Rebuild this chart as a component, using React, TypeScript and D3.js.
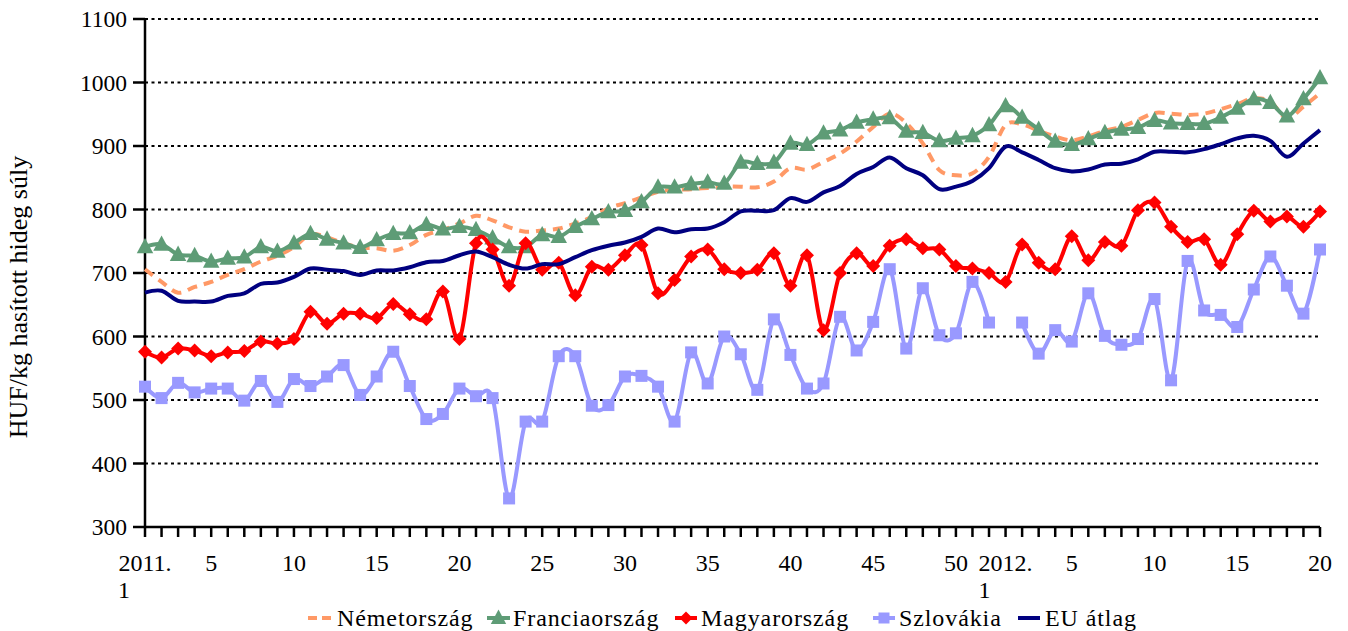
import React from "react";
import * as d3 from "d3";

// 2011 weeks 1..52, 2012 weeks 1..20 (72 weeks)
const nemetorszag = [706,686,669,678,686,697,706,718,727,741,761,756,747,740,739,735,744,
  760,768,778,790,783,772,765,767,770,778,788,802,810,819,828,831,832,834,
  836,836,835,844,865,863,875,888,907,930,951,936,904,862,854,857,883,933,
  934,924,915,909,915,924,930,941,952,951,949,951,958,966,975,970,944,962,983];
const franciaorszag = [741,745,729,727,718,723,725,741,734,747,762,753,747,740,752,762,763,
  776,769,773,768,755,741,741,760,757,773,785,796,798,812,835,835,840,843,
  841,874,872,874,904,902,920,925,937,942,944,923,921,908,912,916,933,963,
  945,926,907,902,911,921,926,929,940,936,935,935,945,959,974,968,947,974,1007];
const magyarorszag = [576,567,581,578,569,575,577,592,589,596,639,620,636,636,629,651,635,
  627,671,596,747,737,680,747,705,716,665,710,705,728,744,668,689,726,737,
  706,700,705,731,680,728,610,700,731,711,743,753,739,737,711,707,700,686,
  745,716,706,758,720,749,743,799,811,773,749,753,713,761,798,781,789,773,797];
const szlovakia: (number | null)[] = [521,503,527,512,518,518,499,530,497,533,522,537,555,508,537,576,522,
  470,478,518,506,503,345,466,466,569,569,491,492,537,538,521,466,575,526,
  600,572,516,627,571,518,526,631,578,623,706,581,676,602,605,686,622,null,
  622,573,610,592,668,601,587,596,659,531,719,641,634,615,674,726,680,636,737];
const euAtlag = [669,672,656,655,655,664,668,683,685,694,707,705,703,697,704,704,709,
  717,719,728,734,725,713,707,714,714,725,736,743,748,757,770,764,769,770,
  780,797,798,799,818,812,827,837,856,867,882,865,854,832,836,845,865,899,
  890,878,865,860,863,871,872,879,891,891,890,895,903,912,916,908,883,904,925];

const tickIndex = [0,4,9,14,19,24,29,34,39,44,49,52,56,61,66,71];
const tickLine1 = ["2011.","5","10","15","20","25","30","35","40","45","50","2012.","5","10","15","20"];
const tickLine2 = ["1","","","","","","","","","","","1","","","",""];
const yTicks = [300,400,500,600,700,800,900,1000,1100];

const W = 1348, H = 631;
const FONT = "'Liberation Serif', 'Times New Roman', serif";

export default function App() {
  const x = d3.scaleLinear().domain([0, 71]).range([145, 1320]);
  const y = d3.scaleLinear().domain([300, 1100]).range([527, 19]);
  const line = d3.line<number | null>()
    .defined((d) => d !== null)
    .x((_, i) => x(i))
    .y((d) => y(d as number))
    .curve(d3.curveCardinal.tension(0));

  const tri = (cx: number, cy: number, s: number) =>
    `M${cx},${cy - s * 0.6}L${cx + s * 0.55},${cy + s * 0.42}L${cx - s * 0.55},${cy + s * 0.42}Z`;
  const dia = (cx: number, cy: number, s: number) =>
    `M${cx},${cy - s}L${cx + s},${cy}L${cx},${cy + s}L${cx - s},${cy}Z`;

  const green = "#5E9C76", orange = "#FF9966", red = "#FF0000", lav = "#9999FF", navy = "#000080";
  const idx = d3.range(72);

  const ly = 618;

  return (
    <svg width={W} height={H} style={{ position: "absolute", left: 0, top: 0, background: "#fff" }} fontFamily={FONT}>
      {/* gridlines */}
      {yTicks.filter((v) => v > 300).map((v) => (
        <line key={v} x1={145} x2={1320} y1={y(v)} y2={y(v)} stroke="#000" strokeWidth={2} strokeDasharray="3,3.5" />
      ))}
      {/* y axis */}
      <line x1={145} x2={145} y1={y(1100)} y2={y(300)} stroke="#000" strokeWidth={2.5} />
      {yTicks.map((v) => (
        <g key={v}>
          <line x1={133} x2={145} y1={y(v)} y2={y(v)} stroke="#000" strokeWidth={2.5} />
          <text x={127} y={y(v)} dy="0.35em" textAnchor="end" fontSize={23.5}>{v}</text>
        </g>
      ))}
      {/* x axis */}
      <line x1={145} x2={1320} y1={y(300)} y2={y(300)} stroke="#000" strokeWidth={2.5} />
      {idx.map((i) => (
        <line key={i} x1={x(i)} x2={x(i)} y1={y(300)} y2={y(300) + 10} stroke="#000" strokeWidth={2.5} />
      ))}
      {tickIndex.map((ti, k) => (
        <g key={k}>
          <text x={x(ti)} y={571} textAnchor="middle" fontSize={24}>{tickLine1[k]}</text>
          {tickLine2[k] && (
            <text x={x(ti) - 21} y={598} textAnchor="middle" fontSize={24}>{tickLine2[k]}</text>
          )}
        </g>
      ))}
      <text transform={`translate(27,${297}) rotate(-90)`} textAnchor="middle" fontSize={26}>HUF/kg hasított hideg súly</text>

      {/* series */}
      <path d={line(nemetorszag) || ""} fill="none" stroke={orange} strokeWidth={4} strokeDasharray="10,7" />
      <path d={line(franciaorszag) || ""} fill="none" stroke={green} strokeWidth={4} />
      {franciaorszag.map((v, i) => (
        <path key={i} d={tri(x(i), y(v), 15)} fill={green} />
      ))}
      <path d={line(magyarorszag) || ""} fill="none" stroke={red} strokeWidth={4} />
      {magyarorszag.map((v, i) => (
        <path key={i} d={dia(x(i), y(v), 7)} fill={red} />
      ))}
      <path d={line(szlovakia) || ""} fill="none" stroke={lav} strokeWidth={4} />
      {szlovakia.map((v, i) => v === null ? null : (
        <rect key={i} x={x(i) - 6} y={y(v) - 6} width={12} height={12} fill={lav} />
      ))}
      <path d={line(euAtlag) || ""} fill="none" stroke={navy} strokeWidth={4} />

      {/* legend */}
      <g fontSize={24} letterSpacing={0.9}>
        <line x1={308} x2={331} y1={ly} y2={ly} stroke={orange} strokeWidth={4} strokeDasharray="9,5" />
        <text x={337} y={626}>Németország</text>
        <line x1={487} x2={510} y1={ly} y2={ly} stroke={green} strokeWidth={4} />
        <path d={tri(498.5, ly, 14)} fill={green} />
        <text x={513} y={626}>Franciaország</text>
        <line x1={675} x2={697} y1={ly} y2={ly} stroke={red} strokeWidth={4} />
        <path d={dia(686, ly, 6.5)} fill={red} />
        <text x={701} y={626}>Magyarország</text>
        <line x1={873} x2={895} y1={ly} y2={ly} stroke={lav} strokeWidth={4} />
        <rect x={878.5} y={ly - 5.5} width={11} height={11} fill={lav} />
        <text x={899} y={626}>Szlovákia</text>
        <line x1={1018} x2={1040} y1={ly} y2={ly} stroke={navy} strokeWidth={4} />
        <text x={1045} y={626}>EU átlag</text>
      </g>
    </svg>
  );
}
